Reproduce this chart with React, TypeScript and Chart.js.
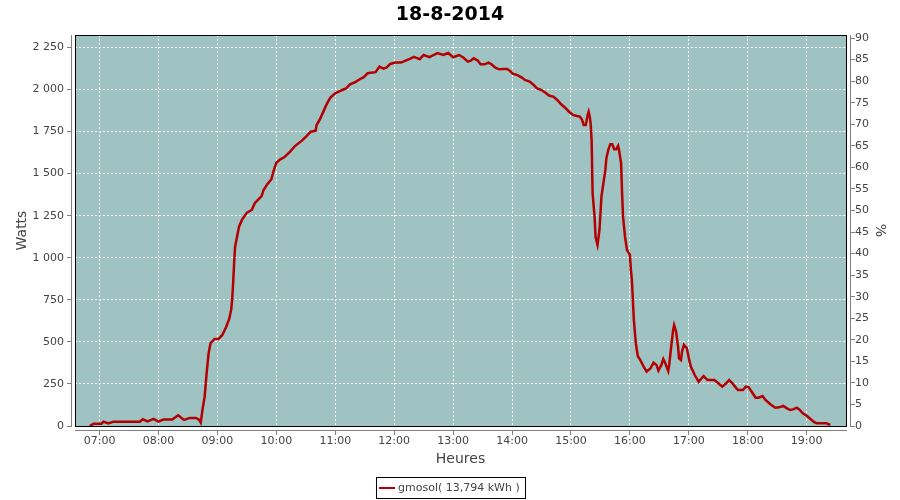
import React, { useEffect, useRef } from "react";
import { Chart, registerables } from "chart.js";

Chart.register(...registerables);

const chartTitle = "18-8-2014";
const seriesLabel = "gmosol( 13,794 kWh )";
const xTitle = "Heures";
const yTitle = "Watts";
const y2Title = "%";

const times = [
  "06:50", "06:54", "07:02", "07:04", "07:09", "07:14", "07:41", "07:44", "07:49", "07:55",
  "08:00", "08:05", "08:14", "08:20", "08:26", "08:32", "08:38", "08:41", "08:43", "08:45",
  "08:47", "08:49", "08:51", "08:53", "08:57", "09:01", "09:05", "09:09", "09:12", "09:14",
  "09:15", "09:16", "09:17", "09:18", "09:20", "09:22", "09:25", "09:30", "09:35", "09:38",
  "09:42", "09:45", "09:47", "09:51", "09:55", "09:57", "10:00", "10:04", "10:08", "10:14",
  "10:19", "10:26", "10:31", "10:35", "10:40", "10:41", "10:44", "10:48", "10:51", "10:55",
  "11:00", "11:07", "11:11", "11:15", "11:20", "11:25", "11:29", "11:33", "11:36", "11:41",
  "11:45", "11:49", "11:52", "11:56", "12:01", "12:07", "12:11", "12:16", "12:20", "12:22",
  "12:26", "12:30", "12:36", "12:40", "12:44", "12:50", "12:55", "13:00", "13:06", "13:10",
  "13:15", "13:18", "13:21", "13:25", "13:28", "13:32", "13:36", "13:39", "13:43", "13:47",
  "13:51", "13:55", "13:58", "14:01", "14:05", "14:10", "14:13", "14:18", "14:22", "14:25",
  "14:30", "14:34", "14:38", "14:42", "14:46", "14:50", "14:54", "14:58", "15:02", "15:06",
  "15:09", "15:11", "15:13", "15:15", "15:17", "15:18", "15:19", "15:20", "15:21", "15:22",
  "15:24", "15:25", "15:27", "15:29", "15:30", "15:31", "15:33", "15:35", "15:36", "15:38",
  "15:40", "15:42", "15:44", "15:46", "15:48", "15:49", "15:51", "15:52", "15:53", "15:55",
  "15:57", "15:58", "16:00", "16:01", "16:02", "16:03", "16:04", "16:06", "16:08", "16:10",
  "16:14", "16:17", "16:21", "16:24", "16:27", "16:29", "16:32", "16:34", "16:36", "16:39",
  "16:40", "16:42", "16:44", "16:45", "16:47", "16:49", "16:50", "16:52", "16:53", "16:55",
  "16:58", "17:00", "17:02", "17:06", "17:10", "17:13", "17:15", "17:19", "17:26", "17:30",
  "17:34", "17:38", "17:41", "17:44", "17:47", "17:50", "17:55", "17:58", "18:01", "18:04",
  "18:08", "18:11", "18:15", "18:18", "18:23", "18:28", "18:32", "18:36", "18:40", "18:43",
  "18:46", "18:50", "18:53", "18:56", "19:00", "19:03", "19:07", "19:10", "19:20", "19:24",
];

const watts = [
  0, 14, 14, 26, 15, 26, 26, 40, 28, 42,
  26, 39, 39, 64, 36, 48, 48, 39, 20, 105,
  174, 313, 432, 492, 517, 517, 541, 590, 636, 690,
  749, 848, 967, 1066, 1125, 1185, 1225, 1268, 1284, 1324,
  1348, 1367, 1403, 1439, 1467, 1512, 1565, 1585, 1597, 1631,
  1664, 1696, 1724, 1749, 1755, 1789, 1819, 1870, 1910, 1952,
  1978, 1997, 2007, 2031, 2043, 2061, 2073, 2097, 2100, 2103,
  2136, 2124, 2130, 2152, 2160, 2160, 2170, 2182, 2194, 2189,
  2180, 2205, 2192, 2205, 2216, 2205, 2217, 2192, 2205, 2192,
  2166, 2172, 2186, 2172, 2150, 2150, 2160, 2150, 2130, 2120,
  2122, 2122, 2110, 2093, 2087, 2071, 2057, 2047, 2027, 2008,
  1997, 1981, 1963, 1958, 1938, 1912, 1892, 1868, 1849, 1843,
  1839, 1823, 1789, 1789, 1849, 1868, 1843, 1799, 1700, 1383,
  1244, 1125, 1076, 1165, 1264, 1363, 1443, 1522, 1591, 1641,
  1675, 1675, 1645, 1645, 1665, 1637, 1562, 1383, 1244, 1125,
  1046, 1036, 1017, 927, 868, 749, 630, 492, 416, 397,
  353, 323, 343, 376, 363, 329, 363, 398, 373, 327,
  363, 471, 571, 600, 561, 471, 402, 392, 442, 482,
  462, 402, 353, 303, 263, 284, 297, 273, 273, 254,
  234, 254, 273, 257, 234, 214, 214, 234, 230, 204,
  168, 168, 178, 155, 129, 109, 111, 119, 105, 95,
  99, 109, 95, 75, 61, 46, 26, 16, 16, 6,
];

const hourTicks = [
  "07:00", "08:00", "09:00", "10:00", "11:00", "12:00", "13:00",
  "14:00", "15:00", "16:00", "17:00", "18:00", "19:00",
];
const wattTicks = [0, 250, 500, 750, 1000, 1250, 1500, 1750, 2000, 2250];
const percentTicks = [0, 5, 10, 15, 20, 25, 30, 35, 40, 45, 50, 55, 60, 65, 70, 75, 80, 85, 90];

const xMin = "06:35";
const xMax = "19:40";
const wattMax = 2324;
const percentMax = 90.7;

const FONT = "DejaVu Sans";
const lineColor = "#b40000";
const plotBg = "#9ec3c2";
const axisGray = "#808080";
const textGray = "#444444";

const toMin = (s: string) => {
  const [h, m] = s.split(":").map(Number);
  return h * 60 + m;
};
const fmtWatts = (v: number) =>
  v >= 1000 ? `${Math.floor(v / 1000)} ${String(v % 1000).padStart(3, "0")}` : String(v);

const framePlugin = {
  id: "frame",
  beforeDraw(chart: any) {
    const { ctx, chartArea: a } = chart;
    ctx.save();
    ctx.fillStyle = "#ffffff";
    ctx.fillRect(0, 0, chart.width, chart.height);
    ctx.fillStyle = plotBg;
    ctx.fillRect(a.left, a.top, a.right - a.left, a.bottom - a.top);
    ctx.restore();
  },
  afterDraw(chart: any) {
    const { ctx, chartArea: a, scales } = chart;
    const al = (p: number) => Math.round(p - 0.5) + 0.5;
    const seg = (x1: number, y1: number, x2: number, y2: number) => {
      ctx.beginPath();
      ctx.moveTo(x1, y1);
      ctx.lineTo(x2, y2);
      ctx.stroke();
    };
    ctx.save();
    ctx.setLineDash([]);
    ctx.lineWidth = 1;
    ctx.strokeStyle = "#000000";
    ctx.strokeRect(a.left + 0.5, a.top + 0.5, a.right - a.left, a.bottom - a.top);

    ctx.strokeStyle = axisGray;
    // left axis
    const lx = a.left - 3.5;
    seg(lx, a.top, lx, a.bottom + 1);
    scales.y.ticks.forEach((t: any) => {
      const y = al(scales.y.getPixelForValue(t.value));
      seg(lx - 4.5, y, lx, y);
    });
    // right axis
    const rx = a.right + 4.5;
    seg(rx, a.top, rx, a.bottom + 1);
    scales.y1.ticks.forEach((t: any) => {
      const y = al(scales.y1.getPixelForValue(t.value));
      seg(rx, y, rx + 4.5, y);
    });
    // bottom axis
    const by = a.bottom + 4.5;
    seg(a.left, by, a.right + 1, by);
    scales.x.ticks.forEach((t: any) => {
      const x = al(scales.x.getPixelForValue(t.value));
      seg(x, by, x, by + 4.5);
    });

    // legend
    ctx.font = `11px "${FONT}"`;
    const tw = ctx.measureText(seriesLabel).width;
    const bw = Math.round(tw + 27);
    const bx = Math.round(chart.width / 2 - bw / 2);
    const byTop = 477;
    const bh = 21;
    ctx.fillStyle = "#ffffff";
    ctx.fillRect(bx, byTop, bw, bh);
    ctx.strokeStyle = "#000000";
    ctx.strokeRect(bx + 0.5, byTop + 0.5, bw, bh);
    ctx.fillStyle = lineColor;
    ctx.fillRect(bx + 3, byTop + 10, 16, 2);
    ctx.fillStyle = textGray;
    ctx.textBaseline = "middle";
    ctx.textAlign = "left";
    ctx.fillText(seriesLabel, bx + 22, byTop + 11.5);
    ctx.restore();
  },
};

export default function App() {
  const ref = useRef<HTMLCanvasElement>(null);
  useEffect(() => {
    const canvas = ref.current!;
    const points = times.map((t, i) => ({ x: toMin(t), y: watts[i] }));
    const gridCommon = {
      color: "#ffffff",
      lineWidth: 1,
      drawTicks: false,
    };
    const chart = new Chart(canvas, {
      type: "line",
      data: {
        datasets: [
          {
            label: seriesLabel,
            data: points,
            borderColor: lineColor,
            backgroundColor: lineColor,
            borderWidth: 2.5,
            pointRadius: 0,
            tension: 0,
            fill: false,
            xAxisID: "x",
            yAxisID: "y",
          },
        ],
      },
      options: {
        responsive: false,
        animation: false,
        devicePixelRatio: 1,
        layout: { padding: 0, autoPadding: false },
        plugins: {
          legend: { display: false },
          tooltip: { enabled: false },
          title: {
            display: true,
            text: chartTitle,
            color: "#000000",
            font: { family: FONT, size: 19, weight: "bold" },
            padding: { top: 4, bottom: 8.2 },
          },
        },
        scales: {
          x: {
            type: "linear",
            position: "bottom",
            min: toMin(xMin),
            max: toMin(xMax),
            afterBuildTicks: (s: any) => {
              s.ticks = hourTicks.map((h) => ({ value: toMin(h) }));
            },
            afterFit: (s: any) => {
              s.height = 74;
            },
            ticks: {
              autoSkip: false,
              maxRotation: 0,
              padding: 9,
              color: textGray,
              font: { family: FONT, size: 11 },
              callback: (_v: any, i: number) => hourTicks[i],
            },
            grid: gridCommon,
            border: { display: false, dash: [2, 2] },
            title: {
              display: true,
              text: xTitle,
              color: textGray,
              font: { family: FONT, size: 14 },
              padding: { top: 0, bottom: 32 },
            },
          },
          y: {
            type: "linear",
            position: "left",
            min: 0,
            max: wattMax,
            afterBuildTicks: (s: any) => {
              s.ticks = wattTicks.map((v) => ({ value: v }));
            },
            afterFit: (s: any) => {
              s.width = 75;
            },
            ticks: {
              padding: 11,
              color: textGray,
              font: { family: FONT, size: 11 },
              callback: (v: any) => fmtWatts(Number(v)),
            },
            grid: gridCommon,
            border: { display: false, dash: [2, 2] },
            title: {
              display: true,
              text: yTitle,
              color: textGray,
              font: { family: FONT, size: 14 },
              padding: { top: 13.6, bottom: 0 },
            },
          },
          y1: {
            type: "linear",
            position: "right",
            display: true,
            min: 0,
            max: percentMax,
            afterBuildTicks: (s: any) => {
              s.ticks = percentTicks.map((v) => ({ value: v }));
            },
            afterFit: (s: any) => {
              s.width = 54;
            },
            ticks: {
              padding: 9,
              color: textGray,
              font: { family: FONT, size: 11 },
              callback: (v: any) => String(v),
            },
            grid: { drawOnChartArea: false, drawTicks: false },
            border: { display: false },
            title: {
              display: true,
              text: y2Title,
              color: textGray,
              font: { family: FONT, size: 14 },
              padding: { top: 11.6, bottom: 0 },
            },
          },
        },
      } as any,
      plugins: [framePlugin],
    });
    return () => chart.destroy();
  }, []);

  return (
    <div style={{ position: "absolute", left: 0, top: 0, width: 900, height: 500, background: "#ffffff" }}>
      <canvas ref={ref} width={900} height={500} style={{ display: "block", width: 900, height: 500 }} />
    </div>
  );
}
